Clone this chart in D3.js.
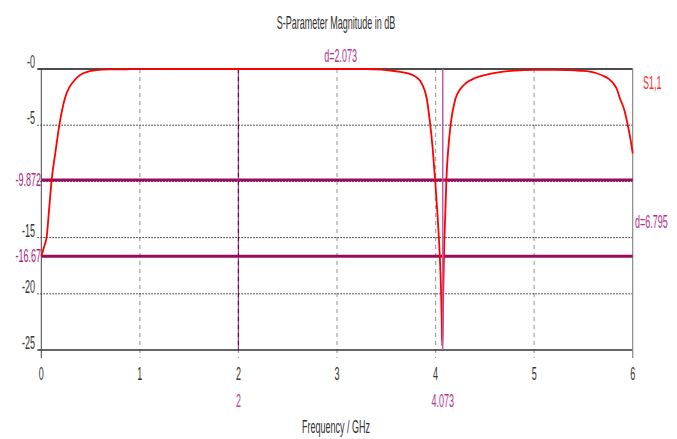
<!DOCTYPE html>
<html>
<head>
<meta charset="utf-8">
<script src="https://cdn.jsdelivr.net/npm/d3@7"></script>
<style>
  body { margin: 0; background: #fff; }
  text { font-family: "Liberation Sans", Arial, sans-serif; font-size: 18px; }
</style>
</head>
<body>
<svg id="chart" width="677" height="439"></svg>
<script>
// S1,1 magnitude in dB
const freq = [0, 0.025, 0.055, 0.08, 0.105, 0.145, 0.183, 0.24, 0.28, 0.325, 0.37, 0.426, 0.49, 0.56, 0.7, 0.9,
  1.5, 2.5, 3.3, 3.45, 3.6, 3.7, 3.8, 3.86, 3.91, 3.94, 3.97, 3.995, 4.02, 4.043, 4.055, 4.063, 4.067,
  4.072, 4.078, 4.085, 4.1, 4.11, 4.13, 4.155, 4.2, 4.25, 4.31, 4.4, 4.52, 4.62, 4.8, 5.0, 5.2, 5.36,
  5.47, 5.565, 5.64, 5.7, 5.76, 5.8, 5.84, 5.87, 5.92, 5.95, 5.975, 6.0];
const s11 = [-16.67, -15.9, -14.9, -12.4, -9.87, -7.3, -5.0, -2.6, -1.7, -1.13, -0.7, -0.38, -0.2, -0.1, -0.04, -0.02,
  0, 0, 0, -0.05, -0.2, -0.35, -0.7, -1.3, -2.6, -4.5, -7, -9.8, -13, -16.7, -19.5, -22.5, -24.6,
  -23.5, -20, -16.7, -12.5, -9.8, -7, -4.8, -2.7, -1.8, -1.25, -0.8, -0.5, -0.33, -0.14, -0.08, -0.08, -0.1,
  -0.16, -0.24, -0.4, -0.6, -0.9, -1.25, -1.8, -2.6, -3.8, -5.0, -6.1, -7.5];

// axis ticks
const xTicks = [0, 1, 2, 3, 4, 5, 6];
const yTicks = [0, -5, -10, -15, -20, -25];

// markers
const markerX = [2, 4.073];
const markerY = [-9.872, -16.67];

const svg = d3.select("#chart");

const x = d3.scaleLinear().domain([0, 6]).range([41.3, 632.7]);
const y = d3.scaleLinear().domain([0, -25]).range([69, 350]);

// narrow text helper (reference font is tall and condensed)
function label(px, py, str, anchor, color) {
  return svg
    .append("text")
    .attr("transform", `translate(${px},${py}) scale(0.5,1)`)
    .attr("text-anchor", anchor)
    .attr("fill", color)
    .text(str);
}

// vertical dashed grid
svg
  .selectAll(".vgrid")
  .data(xTicks.filter((d) => d > 0 && d < 6))
  .join("line")
  .attr("class", "vgrid")
  .attr("x1", (d) => x(d))
  .attr("x2", (d) => x(d))
  .attr("y1", y(0))
  .attr("y2", y(-25) + 8)
  .attr("stroke", "#a3a3a3")
  .attr("stroke-width", 1.2)
  .attr("stroke-dasharray", "4,4");

// horizontal dotted grid
svg
  .selectAll(".hgrid")
  .data(yTicks.filter((d) => d < 0 && d > -25))
  .join("line")
  .attr("class", "hgrid")
  .attr("x1", x(0) - 4)
  .attr("x2", x(6))
  .attr("y1", (d) => y(d))
  .attr("y2", (d) => y(d))
  .attr("stroke", "#222")
  .attr("stroke-width", 1)
  .attr("stroke-dasharray", "1.5,1.5");

// frame
svg.append("line")
  .attr("x1", x(0) - 4).attr("x2", x(6))
  .attr("y1", y(0)).attr("y2", y(0))
  .attr("stroke", "#111").attr("stroke-width", 1.5);
svg.append("line")
  .attr("x1", x(0) - 4).attr("x2", x(6))
  .attr("y1", y(-25)).attr("y2", y(-25))
  .attr("stroke", "#333").attr("stroke-width", 1.6);
svg.append("line")
  .attr("x1", x(0)).attr("x2", x(0))
  .attr("y1", y(0)).attr("y2", y(-25) + 8)
  .attr("stroke", "#444").attr("stroke-width", 1);
svg.append("line")
  .attr("x1", x(6)).attr("x2", x(6))
  .attr("y1", y(0)).attr("y2", y(-25) + 8)
  .attr("stroke", "#888").attr("stroke-width", 1.2);

// tick labels (the -10 label sits under the marker label, so it is not shown)
xTicks.forEach((d) => label(x(d), 380, d, "middle", "#333"));
yTicks
  .filter((d) => markerY.every((m) => Math.abs(m - d) > 1))
  .forEach((d) => label(35, y(d) - 1, "-" + Math.abs(d), "end", "#333"));

// horizontal marker lines
svg
  .selectAll(".hmark")
  .data(markerY)
  .join("line")
  .attr("class", "hmark")
  .attr("x1", x(0))
  .attr("x2", x(6))
  .attr("y1", (d) => y(d))
  .attr("y2", (d) => y(d))
  .attr("stroke", "#9a0b5e")
  .attr("stroke-width", 3);

// vertical marker at 2 (dashed look)
svg.append("line")
  .attr("x1", x(markerX[0])).attr("x2", x(markerX[0]))
  .attr("y1", y(0)).attr("y2", y(-25))
  .attr("stroke", "#b2378e").attr("stroke-width", 1.3);
svg.append("line")
  .attr("x1", x(markerX[0])).attr("x2", x(markerX[0]))
  .attr("y1", y(0)).attr("y2", y(-25))
  .attr("stroke", "#4a0d3c").attr("stroke-width", 1)
  .attr("stroke-dasharray", "4,4");

// the S1,1 curve
const lineGen = d3
  .line()
  .x((d, i) => x(freq[i]))
  .y((d) => y(d))
  .curve(d3.curveMonotoneX);

svg.append("path")
  .datum(s11)
  .attr("fill", "none")
  .attr("stroke", "#ff0000")
  .attr("stroke-width", 1.8)
  .attr("d", lineGen);

// vertical marker at 4.073
svg.append("line")
  .attr("x1", x(markerX[1])).attr("x2", x(markerX[1]))
  .attr("y1", y(0)).attr("y2", y(-25))
  .attr("stroke", "#c458b0").attr("stroke-width", 1.5);

// marker value labels
markerY.forEach((d) => label(41, y(d) + 6, d, "end", "#a8287f"));
label(x(markerX[0]), 407, markerX[0], "middle", "#d4359a");
label(x(markerX[1]), 407, markerX[1], "middle", "#b8308e");

// distance labels
const dx = markerX[1] - markerX[0];
label((x(markerX[0]) + x(markerX[1])) / 2, 62, "d=" + dx.toFixed(3), "middle", "#b0308a");
label(635, (y(markerY[0]) + y(markerY[1])) / 2 + 10, "d=6.795", "start", "#b0308a");

// legend and titles
label(643, 89, "S1,1", "start", "#ff2a2a");
label(336, 29, "S-Parameter Magnitude in dB", "middle", "#333");
label(336, 433, "Frequency / GHz", "middle", "#333");
</script>
</body>
</html>
